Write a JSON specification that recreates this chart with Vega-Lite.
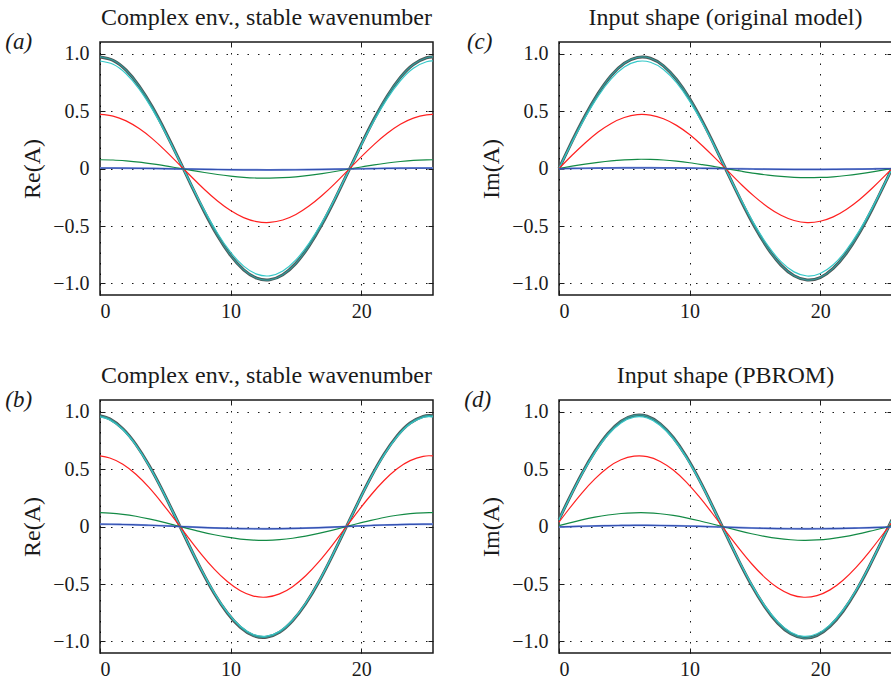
{
  "$schema": "https://vega.github.io/schema/vega-lite/v6.json",
  "padding": {"left": 5, "top": 4, "right": 0, "bottom": 0},
  "background": "white",
  "config": {
    "font": "Liberation Serif",
    "view": {"stroke": "#1a1a1a", "strokeWidth": 1.5},
    "axis": {
      "labelFont": "Liberation Serif", "labelFontSize": 20, "labelColor": "#1a1a1a",
      "titleFont": "Liberation Serif", "titleFontSize": 24, "titleFontWeight": "normal", "titleColor": "#1a1a1a",
      "domain": false, "tickColor": "#1a1a1a", "tickSize": -5, "tickWidth": 1,
      "gridColor": "#000000", "gridDash": [1.5, 9], "gridOpacity": 0.9, "gridWidth": 1
    },
    "axisX": {"labelPadding": 11},
    "axisY": {"labelPadding": 16, "titlePadding": 8},
    "title": {"font": "Liberation Serif", "fontSize": 24, "fontWeight": "normal", "color": "#1a1a1a"}
  },
  "datasets": {
    "a": [
      {"x":0,"dark":0.970,"cyan":0.935,"red":0.470,"green":0.076,"blue":0.004},
      {"x":1,"dark":0.941,"cyan":0.907,"red":0.456,"green":0.074,"blue":0.0038},
      {"x":2,"dark":0.855,"cyan":0.824,"red":0.414,"green":0.066,"blue":0.003},
      {"x":3,"dark":0.717,"cyan":0.691,"red":0.347,"green":0.055,"blue":0.0019},
      {"x":4,"dark":0.536,"cyan":0.516,"red":0.260,"green":0.040,"blue":0.0004},
      {"x":5,"dark":0.322,"cyan":0.311,"red":0.156,"green":0.023,"blue":-0.0013},
      {"x":6,"dark":0.090,"cyan":0.086,"red":0.043,"green":0.003,"blue":-0.0033},
      {"x":7,"dark":-0.149,"cyan":-0.143,"red":-0.072,"green":-0.016,"blue":-0.0052},
      {"x":8,"dark":-0.378,"cyan":-0.364,"red":-0.183,"green":-0.035,"blue":-0.0071},
      {"x":9,"dark":-0.585,"cyan":-0.563,"red":-0.283,"green":-0.052,"blue":-0.0088},
      {"x":10,"dark":-0.756,"cyan":-0.728,"red":-0.366,"green":-0.066,"blue":-0.0102},
      {"x":11,"dark":-0.881,"cyan":-0.849,"red":-0.427,"green":-0.077,"blue":-0.0113},
      {"x":12,"dark":-0.954,"cyan":-0.919,"red":-0.462,"green":-0.083,"blue":-0.0119},
      {"x":13,"dark":-0.968,"cyan":-0.933,"red":-0.469,"green":-0.084,"blue":-0.012},
      {"x":14,"dark":-0.924,"cyan":-0.891,"red":-0.448,"green":-0.080,"blue":-0.0116},
      {"x":15,"dark":-0.825,"cyan":-0.795,"red":-0.400,"green":-0.072,"blue":-0.0108},
      {"x":16,"dark":-0.675,"cyan":-0.651,"red":-0.327,"green":-0.060,"blue":-0.0096},
      {"x":17,"dark":-0.485,"cyan":-0.468,"red":-0.235,"green":-0.044,"blue":-0.008},
      {"x":18,"dark":-0.265,"cyan":-0.256,"red":-0.129,"green":-0.026,"blue":-0.0062},
      {"x":19,"dark":-0.030,"cyan":-0.029,"red":-0.014,"green":-0.006,"blue":-0.0042},
      {"x":20,"dark":0.207,"cyan":0.200,"red":0.101,"green":0.013,"blue":-0.0023},
      {"x":21,"dark":0.432,"cyan":0.417,"red":0.210,"green":0.032,"blue":-0.0004},
      {"x":22,"dark":0.631,"cyan":0.608,"red":0.306,"green":0.048,"blue":0.0012},
      {"x":23,"dark":0.792,"cyan":0.763,"red":0.384,"green":0.061,"blue":0.0025},
      {"x":24,"dark":0.905,"cyan":0.872,"red":0.438,"green":0.071,"blue":0.0035},
      {"x":25,"dark":0.963,"cyan":0.928,"red":0.466,"green":0.075,"blue":0.0039},
      {"x":25.5,"dark":0.970,"cyan":0.935,"red":0.470,"green":0.076,"blue":0.004}
    ],
    "c": [
      {"x":0,"dark":0,"cyan":0,"red":0,"green":0,"blue":-0.001},
      {"x":1,"dark":0.237,"cyan":0.228,"red":0.115,"green":0.020,"blue":0.0007},
      {"x":2,"dark":0.459,"cyan":0.442,"red":0.222,"green":0.038,"blue":0.0023},
      {"x":3,"dark":0.653,"cyan":0.630,"red":0.317,"green":0.054,"blue":0.0037},
      {"x":4,"dark":0.809,"cyan":0.779,"red":0.392,"green":0.067,"blue":0.0048},
      {"x":5,"dark":0.915,"cyan":0.882,"red":0.443,"green":0.075,"blue":0.0056},
      {"x":6,"dark":0.966,"cyan":0.931,"red":0.468,"green":0.080,"blue":0.006},
      {"x":7,"dark":0.959,"cyan":0.924,"red":0.464,"green":0.079,"blue":0.0059},
      {"x":8,"dark":0.893,"cyan":0.861,"red":0.433,"green":0.074,"blue":0.0054},
      {"x":9,"dark":0.774,"cyan":0.746,"red":0.375,"green":0.064,"blue":0.0046},
      {"x":10,"dark":0.608,"cyan":0.586,"red":0.295,"green":0.050,"blue":0.0034},
      {"x":11,"dark":0.405,"cyan":0.391,"red":0.196,"green":0.033,"blue":0.0019},
      {"x":12,"dark":0.178,"cyan":0.172,"red":0.086,"green":0.015,"blue":0.0003},
      {"x":13,"dark":-0.060,"cyan":-0.058,"red":-0.029,"green":-0.005,"blue":-0.0014},
      {"x":14,"dark":-0.294,"cyan":-0.283,"red":-0.143,"green":-0.024,"blue":-0.0031},
      {"x":15,"dark":-0.511,"cyan":-0.492,"red":-0.247,"green":-0.042,"blue":-0.0047},
      {"x":16,"dark":-0.696,"cyan":-0.671,"red":-0.337,"green":-0.057,"blue":-0.006},
      {"x":17,"dark":-0.840,"cyan":-0.810,"red":-0.407,"green":-0.069,"blue":-0.0071},
      {"x":18,"dark":-0.933,"cyan":-0.899,"red":-0.452,"green":-0.077,"blue":-0.0077},
      {"x":19,"dark":-0.970,"cyan":-0.935,"red":-0.470,"green":-0.080,"blue":-0.008},
      {"x":20,"dark":-0.948,"cyan":-0.913,"red":-0.459,"green":-0.078,"blue":-0.0078},
      {"x":21,"dark":-0.868,"cyan":-0.837,"red":-0.421,"green":-0.072,"blue":-0.0073},
      {"x":22,"dark":-0.737,"cyan":-0.710,"red":-0.357,"green":-0.061,"blue":-0.0063},
      {"x":23,"dark":-0.561,"cyan":-0.540,"red":-0.272,"green":-0.046,"blue":-0.005},
      {"x":24,"dark":-0.350,"cyan":-0.338,"red":-0.170,"green":-0.029,"blue":-0.0035},
      {"x":25,"dark":-0.119,"cyan":-0.115,"red":-0.058,"green":-0.010,"blue":-0.0019},
      {"x":25.5,"dark":0,"cyan":0,"red":0,"green":0,"blue":-0.001}
    ],
    "b": [
      {"x":0,"dark":0.963,"cyan":0.953,"red":0.614,"green":0.120,"blue":0.020},
      {"x":0.75,"dark":0.936,"cyan":0.926,"red":0.596,"green":0.116,"blue":0.0194},
      {"x":1.75,"dark":0.850,"cyan":0.841,"red":0.542,"green":0.106,"blue":0.0176},
      {"x":2.75,"dark":0.713,"cyan":0.706,"red":0.454,"green":0.089,"blue":0.0148},
      {"x":3.75,"dark":0.533,"cyan":0.528,"red":0.340,"green":0.066,"blue":0.011},
      {"x":4.75,"dark":0.321,"cyan":0.317,"red":0.204,"green":0.040,"blue":0.0066},
      {"x":5.75,"dark":0.089,"cyan":0.088,"red":0.057,"green":0.011,"blue":0.0018},
      {"x":6.75,"dark":-0.148,"cyan":-0.146,"red":-0.094,"green":-0.018,"blue":-0.0031},
      {"x":7.75,"dark":-0.376,"cyan":-0.372,"red":-0.240,"green":-0.047,"blue":-0.0078},
      {"x":8.75,"dark":-0.582,"cyan":-0.575,"red":-0.371,"green":-0.072,"blue":-0.0121},
      {"x":9.75,"dark":-0.752,"cyan":-0.744,"red":-0.479,"green":-0.093,"blue":-0.0156},
      {"x":10.75,"dark":-0.877,"cyan":-0.868,"red":-0.559,"green":-0.109,"blue":-0.0182},
      {"x":11.75,"dark":-0.949,"cyan":-0.939,"red":-0.605,"green":-0.118,"blue":-0.0197},
      {"x":12.75,"dark":-0.963,"cyan":-0.953,"red":-0.614,"green":-0.120,"blue":-0.020},
      {"x":13.75,"dark":-0.920,"cyan":-0.910,"red":-0.586,"green":-0.114,"blue":-0.0191},
      {"x":14.75,"dark":-0.820,"cyan":-0.812,"red":-0.523,"green":-0.102,"blue":-0.017},
      {"x":15.75,"dark":-0.672,"cyan":-0.665,"red":-0.428,"green":-0.084,"blue":-0.0139},
      {"x":16.75,"dark":-0.483,"cyan":-0.478,"red":-0.308,"green":-0.060,"blue":-0.010},
      {"x":17.75,"dark":-0.264,"cyan":-0.261,"red":-0.168,"green":-0.033,"blue":-0.0055},
      {"x":18.75,"dark":-0.030,"cyan":-0.029,"red":-0.019,"green":-0.004,"blue":-0.0006},
      {"x":19.75,"dark":0.206,"cyan":0.204,"red":0.132,"green":0.026,"blue":0.0043},
      {"x":20.75,"dark":0.430,"cyan":0.426,"red":0.274,"green":0.053,"blue":0.0089},
      {"x":21.75,"dark":0.628,"cyan":0.621,"red":0.400,"green":0.078,"blue":0.013},
      {"x":22.75,"dark":0.788,"cyan":0.779,"red":0.502,"green":0.098,"blue":0.0163},
      {"x":23.75,"dark":0.900,"cyan":0.891,"red":0.573,"green":0.112,"blue":0.0187},
      {"x":24.75,"dark":0.958,"cyan":0.948,"red":0.610,"green":0.119,"blue":0.0198},
      {"x":25.25,"dark":0.965,"cyan":0.955,"red":0.615,"green":0.120,"blue":0.020},
      {"x":25.5,"dark":0.963,"cyan":0.953,"red":0.614,"green":0.120,"blue":0.020}
    ],
    "d": [
      {"x":0,"dark":0.060,"cyan":0.059,"red":0.038,"green":0.007,"blue":-0.0041},
      {"x":0.75,"dark":0.237,"cyan":0.233,"red":0.150,"green":0.029,"blue":-0.0013},
      {"x":1.75,"dark":0.459,"cyan":0.452,"red":0.291,"green":0.057,"blue":0.0021},
      {"x":2.75,"dark":0.653,"cyan":0.643,"red":0.414,"green":0.081,"blue":0.0051},
      {"x":3.75,"dark":0.809,"cyan":0.796,"red":0.513,"green":0.100,"blue":0.0075},
      {"x":4.75,"dark":0.915,"cyan":0.901,"red":0.580,"green":0.113,"blue":0.0091},
      {"x":5.75,"dark":0.966,"cyan":0.951,"red":0.612,"green":0.119,"blue":0.0099},
      {"x":6.75,"dark":0.959,"cyan":0.944,"red":0.608,"green":0.119,"blue":0.0098},
      {"x":7.75,"dark":0.893,"cyan":0.879,"red":0.566,"green":0.111,"blue":0.0088},
      {"x":8.75,"dark":0.774,"cyan":0.762,"red":0.491,"green":0.096,"blue":0.007},
      {"x":9.75,"dark":0.608,"cyan":0.599,"red":0.386,"green":0.075,"blue":0.0044},
      {"x":10.75,"dark":0.405,"cyan":0.399,"red":0.257,"green":0.050,"blue":0.0013},
      {"x":11.75,"dark":0.178,"cyan":0.176,"red":0.113,"green":0.022,"blue":-0.0022},
      {"x":12.75,"dark":-0.060,"cyan":-0.059,"red":-0.038,"green":-0.007,"blue":-0.0059},
      {"x":13.75,"dark":-0.294,"cyan":-0.290,"red":-0.186,"green":-0.036,"blue":-0.0095},
      {"x":14.75,"dark":-0.511,"cyan":-0.503,"red":-0.324,"green":-0.063,"blue":-0.0129},
      {"x":15.75,"dark":-0.696,"cyan":-0.686,"red":-0.442,"green":-0.086,"blue":-0.0158},
      {"x":16.75,"dark":-0.840,"cyan":-0.827,"red":-0.533,"green":-0.104,"blue":-0.018},
      {"x":17.75,"dark":-0.933,"cyan":-0.919,"red":-0.592,"green":-0.115,"blue":-0.0194},
      {"x":18.75,"dark":-0.970,"cyan":-0.955,"red":-0.615,"green":-0.120,"blue":-0.020},
      {"x":19.75,"dark":-0.948,"cyan":-0.933,"red":-0.601,"green":-0.117,"blue":-0.0197},
      {"x":20.75,"dark":-0.868,"cyan":-0.855,"red":-0.551,"green":-0.107,"blue":-0.0184},
      {"x":21.75,"dark":-0.737,"cyan":-0.725,"red":-0.467,"green":-0.091,"blue":-0.0164},
      {"x":22.75,"dark":-0.561,"cyan":-0.552,"red":-0.355,"green":-0.069,"blue":-0.0137},
      {"x":23.75,"dark":-0.350,"cyan":-0.345,"red":-0.222,"green":-0.043,"blue":-0.0104},
      {"x":24.75,"dark":-0.119,"cyan":-0.117,"red":-0.076,"green":-0.015,"blue":-0.0068},
      {"x":25.25,"dark":0,"cyan":0,"red":0,"green":0,"blue":-0.005},
      {"x":25.5,"dark":0.060,"cyan":0.059,"red":0.038,"green":0.007,"blue":-0.0041}
    ]
  },
  "columns": 2,
  "spacing": {"row": 40, "column": 24},
  "concat": [
    {
      "title": {"text": "(a)", "orient": "left", "anchor": "end", "angle": 0, "fontStyle": "italic", "fontSize": 23, "align": "right", "baseline": "middle", "offset": -39, "dy": 37},
      "vconcat": [{
        "width": 333, "height": 253,
        "title": {"text": "Complex env., stable wavenumber", "offset": 12},
        "data": {"name": "a"},
        "transform": [{"fold": ["dark", "cyan", "red", "green", "blue"], "as": ["s", "v"]}],
        "resolve": {"axis": {"x": "independent", "y": "independent"}},
        "layer": [
          {
            "encoding": {
              "x": {"field": "x", "type": "quantitative", "scale": {"domain": [0, 25.5], "nice": false, "zero": false}, "axis": {"values": [0, 10, 20], "title": null}},
              "y": {"field": "v", "type": "quantitative", "scale": {"domain": [-1.1, 1.1], "nice": false}, "axis": {"values": [-1, -0.5, 0, 0.5, 1], "title": "Re(A)", "labelExpr": "datum.value == 0 ? '0' : format(datum.value, '.1f')"}}
            },
            "layer": [
              {"transform": [{"filter": "datum.s == 'dark'"}], "mark": {"type": "line", "interpolate": "natural", "stroke": "#4f5656", "strokeWidth": 3}},
              {"transform": [{"filter": "datum.s == 'blue'"}], "mark": {"type": "line", "interpolate": "natural", "stroke": "#8aa2e2", "strokeWidth": 2}},
              {"mark": {"type": "line", "interpolate": "natural", "strokeWidth": 1.2}, "encoding": {"color": {"field": "s", "type": "nominal", "legend": null, "scale": {"domain": ["blue", "green", "red", "cyan", "dark"], "range": ["#3450b0", "#138a45", "#ff2020", "#35c8c8", "#2f9a9a"]}}}}
            ]
          },
          {
            "mark": {"type": "line", "opacity": 0},
            "encoding": {
              "x": {"field": "x", "type": "quantitative", "scale": {"domain": [0, 25.5], "nice": false, "zero": false}, "axis": {"orient": "top", "values": [10, 20], "labels": false, "grid": false, "title": null}},
              "y": {"field": "v", "type": "quantitative", "scale": {"domain": [-1.1, 1.1], "nice": false}, "axis": {"orient": "right", "values": [-1, -0.5, 0, 0.5, 1], "labels": false, "grid": false, "title": null}}
            }
          }
        ]
      }]
    },
    {
      "title": {"text": "(c)", "orient": "left", "anchor": "end", "angle": 0, "fontStyle": "italic", "fontSize": 23, "align": "right", "baseline": "middle", "offset": -39, "dy": 37},
      "vconcat": [{
        "width": 333, "height": 253,
        "title": {"text": "Input shape (original model)", "offset": 12},
        "data": {"name": "c"},
        "transform": [{"fold": ["dark", "cyan", "red", "green", "blue"], "as": ["s", "v"]}],
        "resolve": {"axis": {"x": "independent", "y": "independent"}},
        "layer": [
          {
            "encoding": {
              "x": {"field": "x", "type": "quantitative", "scale": {"domain": [0, 25.5], "nice": false, "zero": false}, "axis": {"values": [0, 10, 20], "title": null}},
              "y": {"field": "v", "type": "quantitative", "scale": {"domain": [-1.1, 1.1], "nice": false}, "axis": {"values": [-1, -0.5, 0, 0.5, 1], "title": "Im(A)", "labelExpr": "datum.value == 0 ? '0' : format(datum.value, '.1f')"}}
            },
            "layer": [
              {"transform": [{"filter": "datum.s == 'dark'"}], "mark": {"type": "line", "interpolate": "natural", "stroke": "#4f5656", "strokeWidth": 3}},
              {"transform": [{"filter": "datum.s == 'blue'"}], "mark": {"type": "line", "interpolate": "natural", "stroke": "#8aa2e2", "strokeWidth": 2}},
              {"mark": {"type": "line", "interpolate": "natural", "strokeWidth": 1.2}, "encoding": {"color": {"field": "s", "type": "nominal", "legend": null, "scale": {"domain": ["blue", "green", "red", "cyan", "dark"], "range": ["#3450b0", "#138a45", "#ff2020", "#35c8c8", "#2f9a9a"]}}}}
            ]
          },
          {
            "mark": {"type": "line", "opacity": 0},
            "encoding": {
              "x": {"field": "x", "type": "quantitative", "scale": {"domain": [0, 25.5], "nice": false, "zero": false}, "axis": {"orient": "top", "values": [10, 20], "labels": false, "grid": false, "title": null}},
              "y": {"field": "v", "type": "quantitative", "scale": {"domain": [-1.1, 1.1], "nice": false}, "axis": {"orient": "right", "values": [-1, -0.5, 0, 0.5, 1], "labels": false, "grid": false, "title": null}}
            }
          }
        ]
      }]
    },
    {
      "title": {"text": "(b)", "orient": "left", "anchor": "end", "angle": 0, "fontStyle": "italic", "fontSize": 23, "align": "right", "baseline": "middle", "offset": -39, "dy": 37},
      "vconcat": [{
        "width": 333, "height": 253,
        "title": {"text": "Complex env., stable wavenumber", "offset": 12},
        "data": {"name": "b"},
        "transform": [{"fold": ["dark", "cyan", "red", "green", "blue"], "as": ["s", "v"]}],
        "resolve": {"axis": {"x": "independent", "y": "independent"}},
        "layer": [
          {
            "encoding": {
              "x": {"field": "x", "type": "quantitative", "scale": {"domain": [0, 25.5], "nice": false, "zero": false}, "axis": {"values": [0, 10, 20], "title": null}},
              "y": {"field": "v", "type": "quantitative", "scale": {"domain": [-1.1, 1.1], "nice": false}, "axis": {"values": [-1, -0.5, 0, 0.5, 1], "title": "Re(A)", "labelExpr": "datum.value == 0 ? '0' : format(datum.value, '.1f')"}}
            },
            "layer": [
              {"transform": [{"filter": "datum.s == 'dark'"}], "mark": {"type": "line", "interpolate": "natural", "stroke": "#4f5656", "strokeWidth": 3}},
              {"transform": [{"filter": "datum.s == 'blue'"}], "mark": {"type": "line", "interpolate": "natural", "stroke": "#8aa2e2", "strokeWidth": 2}},
              {"mark": {"type": "line", "interpolate": "natural", "strokeWidth": 1.2}, "encoding": {"color": {"field": "s", "type": "nominal", "legend": null, "scale": {"domain": ["blue", "green", "red", "cyan", "dark"], "range": ["#3450b0", "#138a45", "#ff2020", "#35c8c8", "#2f9a9a"]}}}}
            ]
          },
          {
            "mark": {"type": "line", "opacity": 0},
            "encoding": {
              "x": {"field": "x", "type": "quantitative", "scale": {"domain": [0, 25.5], "nice": false, "zero": false}, "axis": {"orient": "top", "values": [10, 20], "labels": false, "grid": false, "title": null}},
              "y": {"field": "v", "type": "quantitative", "scale": {"domain": [-1.1, 1.1], "nice": false}, "axis": {"orient": "right", "values": [-1, -0.5, 0, 0.5, 1], "labels": false, "grid": false, "title": null}}
            }
          }
        ]
      }]
    },
    {
      "title": {"text": "(d)", "orient": "left", "anchor": "end", "angle": 0, "fontStyle": "italic", "fontSize": 23, "align": "right", "baseline": "middle", "offset": -39, "dy": 37},
      "vconcat": [{
        "width": 333, "height": 253,
        "title": {"text": "Input shape (PBROM)", "offset": 12},
        "data": {"name": "d"},
        "transform": [{"fold": ["dark", "cyan", "red", "green", "blue"], "as": ["s", "v"]}],
        "resolve": {"axis": {"x": "independent", "y": "independent"}},
        "layer": [
          {
            "encoding": {
              "x": {"field": "x", "type": "quantitative", "scale": {"domain": [0, 25.5], "nice": false, "zero": false}, "axis": {"values": [0, 10, 20], "title": null}},
              "y": {"field": "v", "type": "quantitative", "scale": {"domain": [-1.1, 1.1], "nice": false}, "axis": {"values": [-1, -0.5, 0, 0.5, 1], "title": "Im(A)", "labelExpr": "datum.value == 0 ? '0' : format(datum.value, '.1f')"}}
            },
            "layer": [
              {"transform": [{"filter": "datum.s == 'dark'"}], "mark": {"type": "line", "interpolate": "natural", "stroke": "#4f5656", "strokeWidth": 3}},
              {"transform": [{"filter": "datum.s == 'blue'"}], "mark": {"type": "line", "interpolate": "natural", "stroke": "#8aa2e2", "strokeWidth": 2}},
              {"mark": {"type": "line", "interpolate": "natural", "strokeWidth": 1.2}, "encoding": {"color": {"field": "s", "type": "nominal", "legend": null, "scale": {"domain": ["blue", "green", "red", "cyan", "dark"], "range": ["#3450b0", "#138a45", "#ff2020", "#35c8c8", "#2f9a9a"]}}}}
            ]
          },
          {
            "mark": {"type": "line", "opacity": 0},
            "encoding": {
              "x": {"field": "x", "type": "quantitative", "scale": {"domain": [0, 25.5], "nice": false, "zero": false}, "axis": {"orient": "top", "values": [10, 20], "labels": false, "grid": false, "title": null}},
              "y": {"field": "v", "type": "quantitative", "scale": {"domain": [-1.1, 1.1], "nice": false}, "axis": {"orient": "right", "values": [-1, -0.5, 0, 0.5, 1], "labels": false, "grid": false, "title": null}}
            }
          }
        ]
      }]
    }
  ]
}
